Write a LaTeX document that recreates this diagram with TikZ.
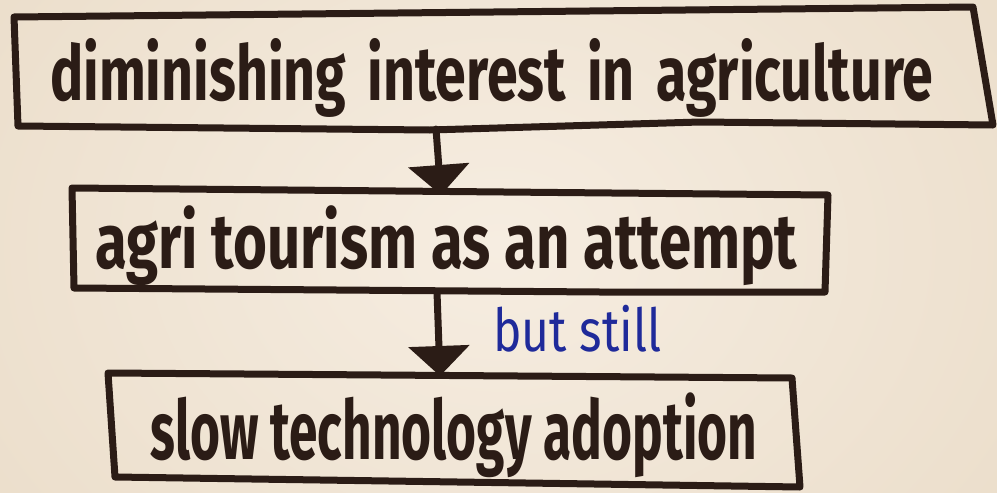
\documentclass[tikz,border=0pt]{standalone}
\usepackage{fontspec}
\setmainfont{Fira Sans}
\usepackage{graphicx}
\usetikzlibrary{arrows.meta}
\definecolor{paperin}{HTML}{F6EDE1}
\definecolor{paperout}{HTML}{EADCC8}
\definecolor{ink}{HTML}{2B1C16}
\definecolor{pen}{HTML}{1F2A9A}
\begin{document}
\begin{tikzpicture}[x=1pt,y=-1pt,
  outline/.style={draw=ink,line width=7pt,line join=round,line cap=round},
  conn/.style={draw=ink,line width=7pt,line cap=round,-{Triangle[width=60pt,length=30pt]}},
  txt/.style={inner sep=0pt,anchor=north west,text=ink,font=\bfseries},
  note/.style={inner sep=0pt,anchor=north west,text=pen}]
\useasboundingbox (0,0) rectangle (997,493);
\shade[inner color=paperin,outer color=paperout] (-200,-300) rectangle (1197,793);
% boxes
\draw[outline] (14,17) -- (973,7) -- (993,125) -- (700,122) -- (430,130) -- (18,126) -- cycle;
\draw[outline] (72,188) -- (828,195) -- (825,292) -- (600,292) -- (74,288) -- cycle;
\draw[outline] (108,373) -- (792,378) -- (800,487) -- (115,477) -- cycle;
% texts
\node[txt] (t1) at (50,38) {\resizebox*{883pt}{79pt}{diminishing\hspace{0.15em} interest\hspace{0.15em} in\hspace{0.15em} agriculture}};
\node[txt] (t2) at (95,205) {\resizebox*{702pt}{80pt}{agri tourism as an attempt}};
\node[txt] (t3) at (150,393) {\resizebox*{607pt}{85pt}{slow technology adoption}};
\node[note] (n1) at (493,305) {\resizebox*{168pt}{47pt}{but still}};
% connectors
\coordinate (b1s) at (436,129);
\coordinate (b2n) at (441,195);
\coordinate (b2s) at (437,292);
\coordinate (b3n) at (440,376);
\draw[conn] (b1s) -- (b2n);
\draw[conn] (b2s) -- (b3n);
\end{tikzpicture}
\end{document}
